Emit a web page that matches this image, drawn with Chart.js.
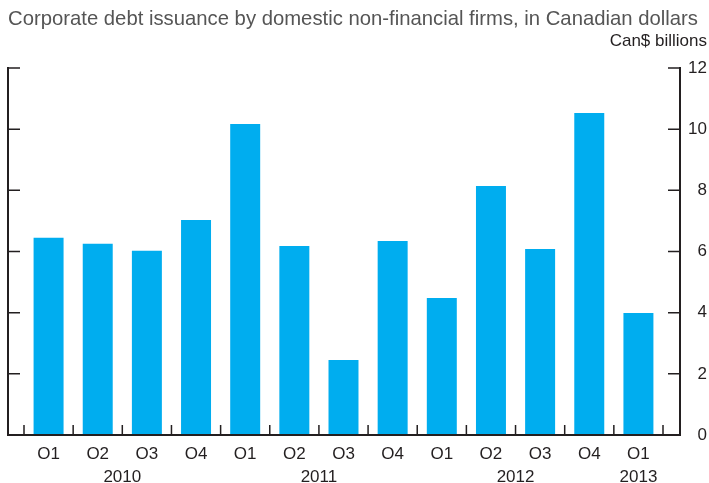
<!DOCTYPE html>
<html>
<head>
<meta charset="utf-8">
<script src="https://cdn.jsdelivr.net/npm/chart.js@4/dist/chart.umd.min.js"></script>
<style>
  html, body { margin: 0; padding: 0; background: #fff; }
  #wrap { width: 709px; height: 483px; position: relative; }
</style>
</head>
<body>
<div id="wrap"><canvas id="debtChart" width="709" height="483"></canvas></div>
<script>
  // Setup Block
  const quarters   = ['Q1', 'Q2', 'Q3', 'Q4', 'Q1', 'Q2', 'Q3', 'Q4', 'Q1', 'Q2', 'Q3', 'Q4', 'Q1'];
  const issuance   = [6.45, 6.25, 6.02, 7.03, 10.17, 6.18, 2.45, 6.34, 4.48, 8.14, 6.08, 10.53, 3.99];
  const yearLabels = ['2010', '2011', '2012', '2013'];
  const yearPos    = [1.5, 5.5, 9.5, 12];   // centred under their quarters
  const yTicks     = [0, 2, 4, 6, 8, 10, 12];

  const FONT = "'Liberation Sans', Arial, Helvetica, sans-serif";
  const INK  = '#231f20';
  const BAR  = '#00adef';

  // Plugin - frame with inward ticks
  const frame = {
    id: 'frame',
    afterDatasetsDraw(chart) {
      const { ctx, chartArea: a, scales: { y } } = chart;
      const left = a.left - 16, right = a.right + 17;
      const bottom = y.getPixelForValue(0);
      ctx.save();
      ctx.strokeStyle = INK;

      // ticks
      ctx.lineWidth = 1.5;
      ctx.beginPath();
      yTicks.forEach(v => {
        if (v === 0) return;
        const py = y.getPixelForValue(v);
        ctx.moveTo(left, py);  ctx.lineTo(left + 12, py);
        ctx.moveTo(right, py); ctx.lineTo(right - 12, py);
      });
      const w = (a.right - a.left) / quarters.length;
      for (let k = 0; k <= quarters.length; k++) {
        const px = a.left + k * w;
        ctx.moveTo(px, bottom); ctx.lineTo(px, bottom - 10);
      }
      ctx.stroke();

      // axis lines
      ctx.lineWidth = 2;
      ctx.beginPath();
      ctx.moveTo(left, y.getPixelForValue(12) - 1);
      ctx.lineTo(left, bottom);
      ctx.lineTo(right, bottom);
      ctx.lineTo(right, y.getPixelForValue(12) - 1);
      ctx.stroke();
      ctx.restore();
    }
  };

  const data = {
    labels: quarters,
    datasets: [{
      data: issuance,
      backgroundColor: BAR,
      borderWidth: 0,
      categoryPercentage: 1,
      barPercentage: 0.61,
    }]
  };

  // Config block
  const config = {
    type: 'bar',
    data,
    options: {
      responsive: false,
      animation: false,
      layout: { padding: { left: 8, right: 2, top: 0, bottom: 0 } },
      scales: {
        x: {
          position: 'bottom',
          weight: 0,
          grid: { display: false, drawTicks: false },
          border: { display: false },
          ticks: { color: INK, font: { family: FONT, size: 17 }, padding: 9, maxRotation: 0, autoSkip: false },
          afterFit: s => { s.height = 24; },
        },
        x2: {
          type: 'linear',
          position: 'bottom',
          weight: 1,
          offset: false,
          min: -0.5,
          max: 12.5,
          grid: { display: false, drawTicks: false, offset: false },
          border: { display: false },
          afterBuildTicks: s => { s.ticks = yearPos.map(v => ({ value: v })); },
          ticks: {
            color: INK, font: { family: FONT, size: 17 }, padding: 8, maxRotation: 0, autoSkip: false,
            callback: (v) => yearLabels[yearPos.indexOf(v)],
          },
          afterFit: s => { s.height = 24; },
        },
        yl: {
          type: 'linear',
          position: 'left',
          display: true,
          grid: { display: false, drawTicks: false },
          border: { display: false },
          ticks: { display: false },
          afterFit: s => { s.width = 16; },
        },
        y: {
          position: 'right',
          min: 0,
          max: 12,
          grid: { display: false, drawTicks: false },
          border: { display: false },
          afterBuildTicks: s => { s.ticks = yTicks.map(v => ({ value: v })); },
          ticks: { color: INK, font: { family: FONT, size: 17 }, padding: 25, crossAlign: 'far' },
          afterFit: s => { s.width = 44; },
        },
      },
      plugins: {
        legend: { display: false },
        tooltip: { enabled: false },
        title: {
          display: true,
          text: 'Corporate debt issuance by domestic non-financial firms, in Canadian dollars',
          align: 'start',
          color: '#555555',
          font: { family: FONT, size: 20.3, weight: 'normal' },
          padding: { top: 7, bottom: 0 },
        },
        subtitle: {
          display: true,
          text: 'Can$ billions',
          align: 'end',
          color: INK,
          font: { family: FONT, size: 17, weight: 'normal' },
          padding: { top: 0, bottom: 16.2 },
        },
      },
    },
    plugins: [frame]
  };

  // render block
  const mychart = new Chart(document.getElementById('debtChart'), config);
</script>
</body>
</html>
